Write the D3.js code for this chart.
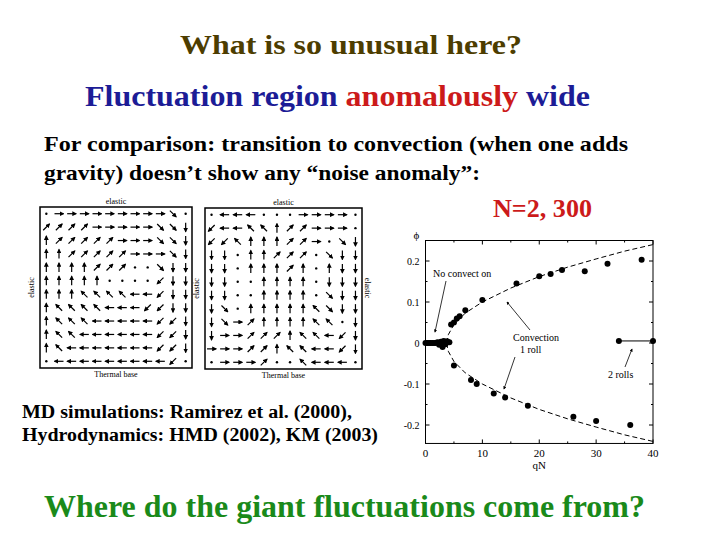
<!DOCTYPE html><html><head><meta charset="utf-8"><script src="https://cdn.jsdelivr.net/npm/d3@7"></script>
<style>body{margin:0;background:#fff}text{font-family:"Liberation Serif","Times New Roman",serif}</style></head><body>
<svg id="s" width="720" height="540"></svg>
<script>
const upperX=[4.5,5,5.5,6,7,10,16,20,22,24,28,32,38];
const upperY=[0.045,0.05,0.06,0.065,0.08,0.105,0.145,0.163,0.168,0.178,0.175,0.193,0.203];
const lowerX=[3,5,8,9,12,14,18,26,30,36];
const lowerY=[-0.01,-0.055,-0.09,-0.1,-0.123,-0.133,-0.153,-0.18,-0.19,-0.2];
const zeroX=[0,0.3,0.6,0.9,1.2,1.5,1.8,2.1,2.4,2.7,3.2,3.5,3.8,4.2];
const zeroY=[0,0,0,0,0,0,0,0.002,-0.004,0.003,0.005,-0.003,0.004,0.002];
const rollsX=[34,40];const rollsY=[0.005,0.005];
const curveX=[3.7,4,5,7,10,15,20,25,30,35,40];
const curveY=[0,0.02,0.045,0.073,0.1,0.134,0.162,0.185,0.205,0.224,0.24];
const xTicks=[0,10,20,30,40];const yTicks=[-0.2,-0.1,0,0.1,0.2];
const yTickLabels=["-0.2","-0.1","0","0.1","0.2"];
const field1=["566666666635","999966666332","899999666332","889999966632","888899955322","888885555122","888777744122","877774441122","877744444112","877444444112","874444444112","544444444415"];
const field2=["544455566665","144778996665","117888996532","225889995322","225888985822","225588885222","225588885322","235888887322","236988887752","266999877412","666998774412","566695574445"];

const svg=d3.select("#s");
const T=(x,y,t,o={})=>{const e=svg.append("text").attr("x",x).attr("y",y).text(t)
 .attr("font-size",o.s||20).attr("font-weight",o.w||"bold").attr("fill",o.c||"#000").attr("text-anchor",o.a||"start");
 if(o.L)e.attr("textLength",o.L).attr("lengthAdjust","spacingAndGlyphs");return e;};
T(180,54,"What is so unusual here?",{s:28,c:"#4d3d00",L:342});
const h=svg.append("text").attr("x",85).attr("y",106).attr("font-size",30).attr("font-weight","bold").attr("textLength",505).attr("lengthAdjust","spacingAndGlyphs");
h.append("tspan").attr("fill","#1c1c96").text("Fluctuation region ");
h.append("tspan").attr("fill","#cc1a1a").text("anomalously");
h.append("tspan").attr("fill","#1c1c96").text(" wide");
T(44,151,"For comparison: transition to convection (when one adds",{s:22,L:584});
T(44,180,"gravity) doesn’t show any “noise anomaly”:",{s:22,L:436});
T(493,217,"N=2, 300",{s:25,c:"#cc1a1a",L:99});
T(22,418,"MD simulations: Ramirez et al. (2000),",{s:18,L:330});
T(22,441,"Hydrodynamics: HMD (2002), KM (2003)",{s:18,L:356});
T(44,517,"Where do the giant fluctuations come from?",{s:31,c:"#1a8a1a",L:601});

const dirs={"6":[1,0],"4":[-1,0],"8":[0,-1],"2":[0,1],"9":[.7,-.7],"7":[-.7,-.7],"3":[.7,.7],"1":[-.7,.7],"5":[0,0]};
svg.append("defs").append("marker").attr("id","ah").attr("viewBox","0 0 10 10").attr("refX",8).attr("refY",5)
 .attr("markerWidth",4).attr("markerHeight",4).attr("orient","auto").append("path").attr("d","M0,0L10,5L0,10z").attr("fill","#000");
function field(f,x0,x1,y0,y1){
 svg.append("rect").attr("x",x0).attr("y",y0).attr("width",x1-x0).attr("height",y1-y0).attr("fill","none").attr("stroke","#000").attr("stroke-width",1.5);
 const gx=d3.scaleBand().domain(d3.range(12)).range([x0,x1]);
 const gy=d3.scaleBand().domain(d3.range(12)).range([y0,y1]);
 f.forEach((row,r)=>row.split("").forEach((ch,c)=>{
  const cx=gx(c)+gx.bandwidth()/2,cy=gy(r)+gy.bandwidth()/2,d=dirs[ch],L=4.5;
  if(ch==="5"){svg.append("circle").attr("cx",cx).attr("cy",cy).attr("r",1.2);return;}
  svg.append("line").attr("x1",cx-d[0]*L).attr("y1",cy-d[1]*L).attr("x2",cx+d[0]*L).attr("y2",cy+d[1]*L)
   .attr("stroke","#000").attr("stroke-width",1.2).attr("marker-end","url(#ah)");
 }));
 T((x0+x1)/2,y0-3,"elastic",{s:8,w:"normal",a:"middle"});
 T((x0+x1)/2,y1+9,"Thermal base",{s:8,w:"normal",a:"middle"});
 svg.append("text").attr("transform",`translate(${x0-6},${(y0+y1)/2}) rotate(-90)`).attr("text-anchor","middle")
  .attr("font-size",8).text("elastic");
}
field(field1,40,192,207,368);
field(field2,205,362,208,369);
svg.append("text").attr("transform",`translate(365,288) rotate(90)`).attr("text-anchor","middle").attr("font-size",8).text("elastic");

const x=d3.scaleLinear().domain([0,40]).range([425.5,653]);
const y=d3.scaleLinear().domain([-0.2,0.2]).range([425,261]);
const yt=y(0.25),yb=y(-0.245);
const g=svg.append("g");
g.append("rect").attr("x",x(0)).attr("y",yt).attr("width",x(40)-x(0)).attr("height",yb-yt).attr("fill","none").attr("stroke","#000");
d3.range(0,41,5).forEach(v=>{const L=v%10?2:4;g.append("line").attr("x1",x(v)).attr("x2",x(v)).attr("y1",yb).attr("y2",yb-L).attr("stroke","#000");
 g.append("line").attr("x1",x(v)).attr("x2",x(v)).attr("y1",yt).attr("y2",yt+L).attr("stroke","#000");});
d3.range(-0.2,0.21,0.05).forEach(v=>{const L=Math.abs(Math.round(v*100))%10?2:4;g.append("line").attr("x1",x(0)).attr("x2",x(0)+L).attr("y1",y(v)).attr("y2",y(v)).attr("stroke","#000");
 g.append("line").attr("x1",x(40)).attr("x2",x(40)-L).attr("y1",y(v)).attr("y2",y(v)).attr("stroke","#000");});
xTicks.forEach(v=>g.append("text").attr("x",x(v)).attr("y",yb+14).attr("text-anchor","middle").attr("font-size",11).text(v));
yTicks.forEach((v,i)=>g.append("text").attr("x",x(0)-6).attr("y",y(v)+4).attr("text-anchor","end").attr("font-size",10).text(yTickLabels[i]));
g.append("text").attr("x",x(20)).attr("y",yb+26).attr("text-anchor","middle").attr("font-size",11).text("qN");
g.append("text").attr("x",x(0)-9).attr("y",yt-2).attr("text-anchor","middle").attr("font-size",11).text("ϕ");
const ln=d3.line().x(d=>x(d[0])).y(d=>y(d[1]));
const cu=curveX.map((v,i)=>[v,curveY[i]]),cl=curveX.map((v,i)=>[v,-curveY[i]]);
[cu,cl].forEach(c=>g.append("path").attr("d",ln(c)).attr("fill","none").attr("stroke","#000").attr("stroke-dasharray","5,3"));
g.append("path").attr("d",ln(rollsX.map((v,i)=>[v,rollsY[i]]))).attr("stroke","#000").attr("fill","none");
const pts=[...upperX.map((v,i)=>[v,upperY[i]]),...lowerX.map((v,i)=>[v,lowerY[i]]),...zeroX.map((v,i)=>[v,zeroY[i]]),...rollsX.map((v,i)=>[v,rollsY[i]])];
g.selectAll("circle.p").data(pts).enter().append("circle").attr("cx",d=>x(d[0])).attr("cy",d=>y(d[1])).attr("r",3).attr("fill","#000");
const A=(x1,y1,x2,y2)=>g.append("line").attr("x1",x1).attr("y1",y1).attr("x2",x2).attr("y2",y2).attr("stroke","#000").attr("stroke-width",0.8).attr("marker-end","url(#ah)");
g.append("text").attr("x",433).attr("y",277).attr("font-size",10).text("No convect on");
A(446,281,435,332);
g.append("text").attr("x",513).attr("y",341).attr("font-size",10).text("Convection");
g.append("text").attr("x",520).attr("y",353).attr("font-size",10).text("1 roll");
A(530,330,507,302);A(515,357,504,389);
g.append("text").attr("x",608).attr("y",378).attr("font-size",10).text("2 rolls");
A(625,367,632,349);
</script></body></html>
